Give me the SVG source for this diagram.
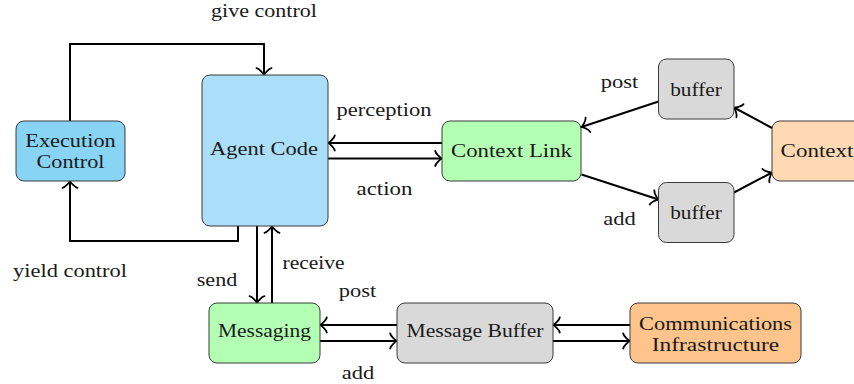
<svg xmlns="http://www.w3.org/2000/svg" width="854" height="384" viewBox="0 0 854 384" font-family="'Liberation Serif', 'DejaVu Serif', serif">
<defs>
<marker id="to" markerUnits="userSpaceOnUse" orient="auto" refX="1.3" refY="0" markerWidth="20" markerHeight="20" viewBox="-8 -10 12 20" overflow="visible">
<path d="M-5.5,-7.5 C-5,-4.6 0,-0.45 1.3,0 C0,0.45 -5,4.6 -5.5,7.5" fill="none" stroke="#000" stroke-width="1.8" stroke-linecap="round"/>
</marker>
<style>
.n{stroke:#3a3a3a;stroke-width:1}
.t{font-size:18px;fill:#1a1a1a;text-anchor:middle}
.c path{fill:none;stroke:#000;stroke-width:2;marker-end:url(#to)}
</style>
</defs>
<rect width="854" height="384" fill="#fff"/>
<g class="c" id="connectors">
<path d="M70,121 V44 H264 V75"/>
<path d="M238,226 V241 H70 V181"/>
<path d="M442,143 H328"/>
<path d="M328,158.5 H442"/>
<path d="M658.5,101.5 L581.5,127"/>
<path d="M581.5,174.5 L658.5,199.5"/>
<path d="M772,128 L734,107.5"/>
<path d="M734,192.5 L772,172.5"/>
<path d="M257,226 V303"/>
<path d="M272,303 V226"/>
<path d="M397,325 H320"/>
<path d="M320,341 H397"/>
<path d="M630,325 H553"/>
<path d="M553,341 H630"/>
</g>
<g id="labels" class="t" font-family="'Liberation Serif', 'DejaVu Serif', serif">
<text x="264" y="17" textLength="106" lengthAdjust="spacingAndGlyphs">give control</text>
<text x="70" y="277" textLength="114" lengthAdjust="spacingAndGlyphs">yield control</text>
<text x="384" y="116" textLength="95" lengthAdjust="spacingAndGlyphs">perception</text>
<text x="384.5" y="195" textLength="56" lengthAdjust="spacingAndGlyphs">action</text>
<text x="619.5" y="88" textLength="37.5" lengthAdjust="spacingAndGlyphs">post</text>
<text x="619.5" y="225" textLength="32.5" lengthAdjust="spacingAndGlyphs">add</text>
<text x="217" y="285.5" textLength="40.5" lengthAdjust="spacingAndGlyphs">send</text>
<text x="313.5" y="269" textLength="62" lengthAdjust="spacingAndGlyphs">receive</text>
<text x="357.5" y="297" textLength="37.5" lengthAdjust="spacingAndGlyphs">post</text>
<text x="358" y="378.5" textLength="32.5" lengthAdjust="spacingAndGlyphs">add</text>
</g>
<g id="exec" font-family="'Liberation Serif', 'DejaVu Serif', serif">
<rect class="n" x="16" y="121" width="109" height="60" rx="8" fill="#87d4f4"/>
<text class="t" x="70.5" y="146.5" textLength="90.5" lengthAdjust="spacingAndGlyphs">Execution</text>
<text class="t" x="70.5" y="167.5" textLength="68" lengthAdjust="spacingAndGlyphs">Control</text>
</g>
<g id="agent" font-family="'Liberation Serif', 'DejaVu Serif', serif">
<rect class="n" x="202" y="75" width="126" height="151" rx="8" fill="#abdff9"/>
<text class="t" x="264" y="155" textLength="108" lengthAdjust="spacingAndGlyphs">Agent Code</text>
</g>
<g id="contextlink" font-family="'Liberation Serif', 'DejaVu Serif', serif">
<rect class="n" x="442" y="121" width="139" height="60" rx="8" fill="#b3ffb3"/>
<text class="t" x="511.5" y="157" textLength="121" lengthAdjust="spacingAndGlyphs">Context Link</text>
</g>
<g id="buffer1" font-family="'Liberation Serif', 'DejaVu Serif', serif">
<rect class="n" x="658.5" y="59" width="75.5" height="60" rx="8" fill="#d9d9d9"/>
<text class="t" x="696" y="96" textLength="51.5" lengthAdjust="spacingAndGlyphs">buffer</text>
</g>
<g id="buffer2" font-family="'Liberation Serif', 'DejaVu Serif', serif">
<rect class="n" x="658.5" y="182.5" width="75.5" height="60" rx="8" fill="#d9d9d9"/>
<text class="t" x="696" y="218.5" textLength="51.5" lengthAdjust="spacingAndGlyphs">buffer</text>
</g>
<g id="context" font-family="'Liberation Serif', 'DejaVu Serif', serif">
<rect class="n" x="772" y="121" width="95" height="60" rx="8" fill="#ffd9b3"/>
<text class="t" x="780.5" y="157" style="text-anchor:start" textLength="73" lengthAdjust="spacingAndGlyphs">Context</text>
</g>
<g id="messaging" font-family="'Liberation Serif', 'DejaVu Serif', serif">
<rect class="n" x="209" y="303" width="111" height="60" rx="8" fill="#b3ffb3"/>
<text class="t" x="264.5" y="337" textLength="93" lengthAdjust="spacingAndGlyphs">Messaging</text>
</g>
<g id="msgbuffer" font-family="'Liberation Serif', 'DejaVu Serif', serif">
<rect class="n" x="397" y="303" width="156" height="60" rx="8" fill="#d9d9d9"/>
<text class="t" x="475" y="337" textLength="137" lengthAdjust="spacingAndGlyphs">Message Buffer</text>
</g>
<g id="comms" font-family="'Liberation Serif', 'DejaVu Serif', serif">
<rect class="n" x="630" y="303" width="171" height="60" rx="8" fill="#ffc48c"/>
<text class="t" x="715.5" y="330" textLength="153" lengthAdjust="spacingAndGlyphs">Communications</text>
<text class="t" x="715.5" y="350.5" textLength="127.5" lengthAdjust="spacingAndGlyphs">Infrastructure</text>
</g>
</svg>
